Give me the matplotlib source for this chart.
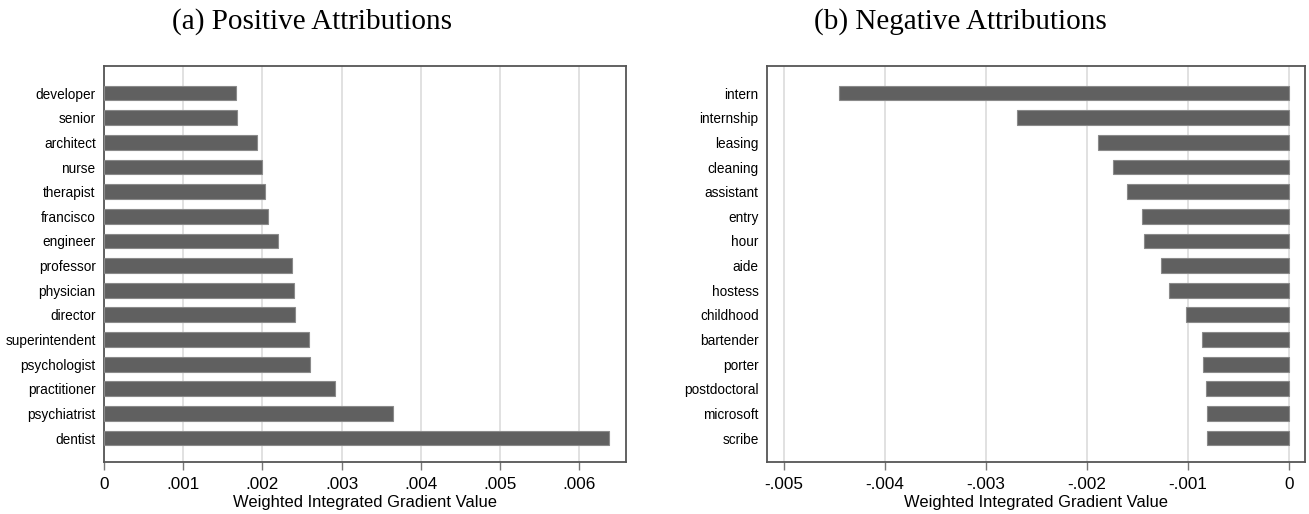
import matplotlib.pyplot as plt
from matplotlib import font_manager

# Data
pos_words = ["developer", "senior", "architect", "nurse", "therapist", "francisco",
             "engineer", "professor", "physician", "director", "superintendent",
             "psychologist", "practitioner", "psychiatrist", "dentist"]
pos_values = [0.001665, 0.001675, 0.00193, 0.00199, 0.00203, 0.00207,
              0.00220, 0.00237, 0.00240, 0.00241, 0.002585,
              0.00260, 0.00291, 0.00365, 0.00638]

neg_words = ["intern", "internship", "leasing", "cleaning", "assistant", "entry",
             "hour", "aide", "hostess", "childhood", "bartender", "porter",
             "postdoctoral", "microsoft", "scribe"]
neg_values = [-0.00445, -0.002695, -0.001888, -0.001745, -0.001601, -0.001458,
              -0.001433, -0.00127, -0.001188, -0.00102, -0.000864, -0.000856,
              -0.000819, -0.000811, -0.000811]

pos_ticks = [0, 0.001, 0.002, 0.003, 0.004, 0.005, 0.006]
pos_ticklabels = ["0", ".001", ".002", ".003", ".004", ".005", ".006"]
neg_ticks = [-0.005, -0.004, -0.003, -0.002, -0.001, 0]
neg_ticklabels = ["-.005", "-.004", "-.003", "-.002", "-.001", "0"]

installed = {f.name for f in font_manager.fontManager.ttflist}
sans = "Liberation Sans Narrow" if "Liberation Sans Narrow" in installed else "Liberation Sans"
plt.rcParams['font.family'] = [sans, 'DejaVu Sans']

bar_color = "#606060"
edge_color = "#8a8a8a"
frame_color = "#555555"
grid_color = "#dcdcdc"

fig = plt.figure(figsize=(13.09, 5.14), dpi=100)
W, H = 1309, 514


def panel(rect, words, values, ticks, ticklabels, xlim):
    l, t, r, b = rect
    ax = fig.add_axes([l / W, 1 - b / H, (r - l) / W, (b - t) / H])
    ypos = list(range(len(words)))
    ax.barh(ypos, values, height=0.6, color=bar_color, edgecolor=edge_color,
            linewidth=0.8, zorder=3)
    ax.set_ylim(14.97, -1.1)
    ax.set_xlim(*xlim)
    ax.set_yticks(ypos)
    ax.set_yticklabels(words, fontsize=9.8)
    ax.tick_params(axis='y', length=0, pad=6)
    ax.set_xticks(ticks)
    ax.set_xticklabels(ticklabels, fontsize=12.3)
    ax.tick_params(axis='x', length=6, width=1, color="#777777", pad=5)
    ax.grid(axis='x', color=grid_color, linewidth=1.2, zorder=0)
    for s in ax.spines.values():
        s.set_color(frame_color)
        s.set_linewidth(1.3)
    ax.set_xlabel("Weighted Integrated Gradient Value", fontsize=11.9, labelpad=2)
    return ax


panel((104, 66, 626, 462), pos_words, pos_values, pos_ticks, pos_ticklabels,
      (0, 0.00659))
panel((767, 66, 1305, 462), neg_words, neg_values, neg_ticks, neg_ticklabels,
      (-0.005164, 0.000156))

title_font = dict(family=['Liberation Serif', 'DejaVu Serif'], fontsize=21,
                  ha='center', va='center')
fig.text(312 / W, 1 - 22 / H, "(a) Positive Attributions", **title_font)
fig.text(960 / W, 1 - 22 / H, "(b) Negative Attributions", **title_font)

fig.savefig("out.png", dpi=100)
